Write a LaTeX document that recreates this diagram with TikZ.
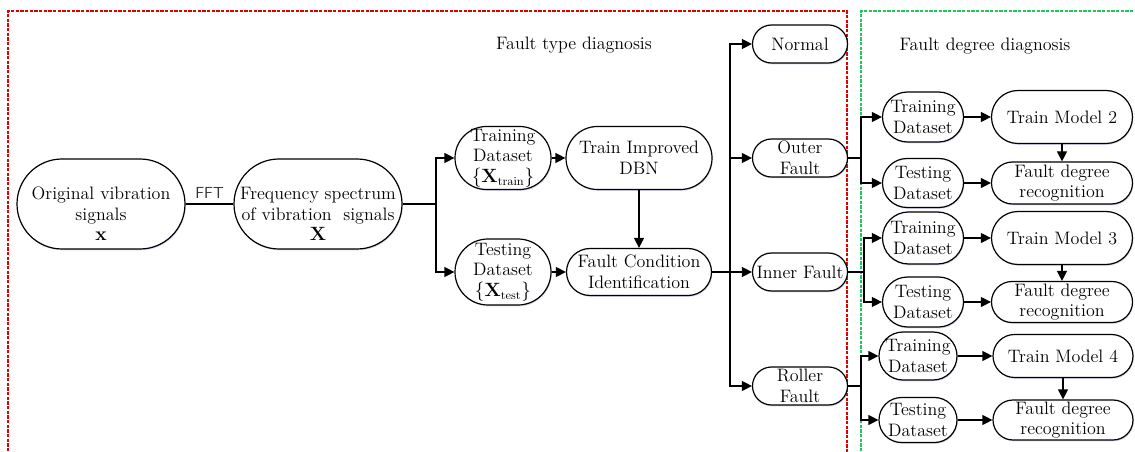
\documentclass[tikz,border=0pt]{standalone}
\usetikzlibrary{arrows.meta,shadows}
\definecolor{redd}{RGB}{225,0,0}
\definecolor{grnd}{RGB}{30,200,90}
\tikzset{
  box/.style={draw, rectangle, fill=white, align=center, inner sep=0pt, line width=0.9pt,
    font=\fontsize{13.5}{15.5}\selectfont,
    drop shadow={shadow xshift=0.6pt, shadow yshift=-1pt, fill=blue!40!gray!70, opacity=0.3}},
  sz/.style 2 args={minimum width=#1*0.75pt, minimum height=#2*0.75pt, rounded corners=#2*0.375pt},
  arr/.style={line width=0.9pt, -{Triangle[length=7.5pt,width=7.5pt]}},
  ln/.style={line width=0.9pt},
  thk/.style={line width=1.6pt},
  ttl/.style={font=\fontsize{13.5}{15.5}\selectfont},
  frame/.style={line width=0.8pt, dash pattern=on 2.5pt off 1pt},
}
\newcommand{\lowered}[2]{\raisebox{#1}[\height][\depth]{\begin{tabular}{@{}c@{}}#2\end{tabular}}}
\begin{document}
\begin{tikzpicture}[x=0.75pt,y=-0.75pt]
\useasboundingbox (0,0) rectangle (1135,452);
% frames
\draw[frame, redd] (8,470) -- (8,11) -- (847,11) -- (847,470);
\draw[frame, grnd] (861,470) -- (861,11) -- (1150,11);
\node[ttl] (t1) at (574,45) {Fault type diagnosis};
\node[ttl] (t2) at (985,46) {Fault degree diagnosis};
% left part
\node[box, sz={168}{90}] (orig) at (101,204) {\lowered{-9pt}{Original vibration\\signals\\$\mathbf{x}$}};
\node[box, sz={168}{90}] (freq) at (318,204) {\lowered{-9pt}{Frequency spectrum\\of vibration\ \ signals\\$\mathbf{X}$}};
\draw[ln] (orig.east) -- node[above, font=\sffamily\fontsize{12}{14}\selectfont, text=black!80] {FFT} (freq.west);
\node[box, sz={96}{63}] (train) at (503,158) {Training\\Dataset\\$\{\mathbf{X}_{\mathrm{train}}\}$};
\node[box, sz={96}{66}] (test) at (503,272) {Testing\\Dataset\\$\{\mathbf{X}_{\mathrm{test}}\}$};
\node[box, sz={146}{63}] (dbn) at (639,158) {Train Improved\\DBN};
\node[box, sz={145}{47}] (fci) at (639,272) {Fault Condition\\Identification};
\coordinate (b1) at (436,204);
\draw[thk] (freq.east) -- (b1);
\draw[arr] (b1) |- (train.west);
\draw[arr] (b1) |- (test.west);
\draw[arr] (train.east) -- (dbn.west);
\draw[arr] (test.east) -- (fci.west);
\draw[arr] (dbn.south) -- (fci.north);
% fault types
\node[box, sz={95}{38}] (normal) at (800,44) {Normal};
\node[box, sz={95}{38}] (outer) at (800,158) {Outer\\Fault};
\node[box, sz={95}{38}] (inner) at (800,272) {Inner Fault};
\node[box, sz={95}{38}] (roller) at (800,386) {Roller\\Fault};
\coordinate (b2) at (730,272);
\draw[thk] (fci.east) -- (b2);
\draw[arr] (b2) |- (normal.west);
\draw[arr] (b2) |- (outer.west);
\draw[arr] (b2) -- (inner.west);
\draw[arr] (b2) |- (roller.west);
% degree: outer
\node[box, sz={81}{50}] (tr2) at (923,117) {Training\\Dataset};
\node[box, sz={81}{49}] (te2) at (923,183) {Testing\\Dataset};
\node[box, sz={141}{53}] (tm2) at (1062,117) {Train Model 2};
\node[box, sz={141}{42}] (fd2) at (1062,183) {Fault degree\\recognition};
\coordinate (b3) at (861,158);
\draw[ln] (outer.east) -- (b3);
\draw[arr] (b3) |- (tr2.west);
\draw[arr] (b3) |- (te2.west);
\draw[arr] (tr2.east) -- (tm2.west);
\draw[arr] (te2.east) -- (fd2.west);
\draw[arr] (tm2.south) -- (fd2.north);
% degree: inner
\node[box, sz={81}{52}] (tr3) at (923,238) {Training\\Dataset};
\node[box, sz={81}{50}] (te3) at (923,302) {Testing\\Dataset};
\node[box, sz={141}{53}] (tm3) at (1062,238) {Train Model 3};
\node[box, sz={141}{41}] (fd3) at (1062,302) {Fault degree\\recognition};
\coordinate (b4) at (864,272);
\draw[ln] (inner.east) -- (b4);
\draw[arr] (b4) |- (tr3.west);
\draw[arr] (b4) |- (te3.west);
\draw[arr] (tr3.east) -- (tm3.west);
\draw[arr] (te3.east) -- (fd3.west);
\draw[arr] (tm3.south) -- (fd3.north);
% degree: roller
\node[box, sz={78}{48}] (tr4) at (918,356) {Training\\Dataset};
\node[box, sz={78}{45}] (te4) at (918,420) {Testing\\Dataset};
\node[box, sz={140}{43}] (tm4) at (1063,356) {Train Model 4};
\node[box, sz={140}{40}] (fd4) at (1063,420) {Fault degree\\recognition};
\coordinate (b5) at (861,386);
\draw[ln] (roller.east) -- (b5);
\draw[arr] (b5) |- (tr4.west);
\draw[arr] (b5) |- (te4.west);
\draw[arr] (tr4.east) -- (tm4.west);
\draw[arr] (te4.east) -- (fd4.west);
\draw[arr] (tm4.south) -- (fd4.north);
\end{tikzpicture}
\end{document}
